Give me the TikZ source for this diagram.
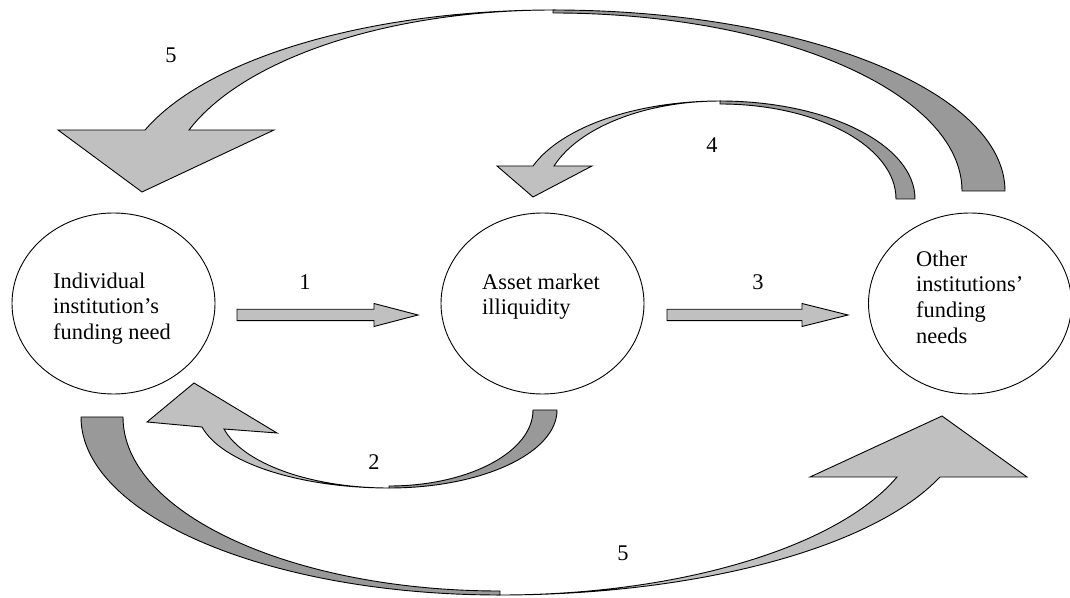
\documentclass[tikz,border=0pt]{standalone}
\usepackage{fontspec}
\setmainfont{Liberation Serif}
\usetikzlibrary{shapes.geometric}
\definecolor{lightshade}{RGB}{192,192,192}
\definecolor{darkshade}{RGB}{153,153,153}
\begin{document}
\begin{tikzpicture}[x=1pt,y=1pt,
  font=\fontsize{22.4}{25.6}\selectfont,
  stage/.style={ellipse,draw,line width=0.9pt,minimum width=203pt,minimum height=181pt,inner sep=0pt},
  caption/.style={anchor=north west,align=left,inner sep=0pt},
  num/.style={anchor=base,inner sep=0pt},
  backpart/.style={draw,fill=darkshade,line width=0.9pt},
  frontpart/.style={draw,fill=lightshade,line width=0.9pt}]
\useasboundingbox (0,0) rectangle (1070,597);

    % the three states
    \node[stage] (indiv) at (113.5,293.5) {};
    \node[stage] (asset) at (542.5,293.5) {};
    \node[stage] (other) at (970,293.5) {};
    \node[caption] (indivtxt) at (53,324.5) {Individual\\institution’s\\funding need};
    \node[caption] (assettxt) at (482,323.5) {Asset market\\illiquidity};
    \node[caption] (othertxt) at (916,346.5) {Other\\institutions’\\funding\\needs};

    % straight arrows 1 and 3
    \draw[frontpart] (237,276.3) -- (374,276.3) -- (374,270.5) -- (418,282) -- (374,293.5) -- (374,287.7) -- (237,287.7) -- cycle;
    \draw[frontpart] (667,276.3) -- (802,276.3) -- (802,270.5) -- (848,282) -- (802,293.5) -- (802,287.7) -- (667,287.7) -- cycle;

    % arrow 5, top
    \draw[backpart] (1005,406) arc[start angle=0,end angle=90,x radius=452,y radius=181]
      -- (553,584) arc[start angle=90,end angle=0,x radius=409,y radius=178] -- cycle;
    \draw[frontpart] (553,587) arc[start angle=90,end angle=160.3,x radius=433.3,y radius=181]
      -- (58,467) -- (142,405) -- (274,467) -- (189,467)
      arc[start angle=160.3,end angle=90,x radius=386.6,y radius=181] -- cycle;

    % arrow 4
    \draw[backpart] (915,398) arc[start angle=0,end angle=90,x radius=195,y radius=98]
      -- (720,493) arc[start angle=90,end angle=0,x radius=176,y radius=95] -- cycle;
    \draw[frontpart] (720,496) arc[start angle=90,end angle=160.3,x radius=198.6,y radius=98]
      -- (497,431) -- (533,400) -- (592,431) -- (554,431)
      arc[start angle=160.3,end angle=90,x radius=176.3,y radius=98] -- cycle;

    % arrow 2
    \draw[backpart] (557,187) arc[start angle=360,end angle=270,x radius=168,y radius=78]
      -- (389,111) arc[start angle=270,end angle=360,x radius=144,y radius=76] -- cycle;
    \draw[frontpart] (389,109) arc[start angle=270,end angle=192.6,x radius=191.6,y radius=78]
      -- (147,175) -- (194,214) -- (277,164) -- (224,168)
      arc[start angle=194.1,end angle=270,x radius=170.1,y radius=78] -- cycle;

    % arrow 5, bottom
    \draw[backpart] (81,180) arc[start angle=180,end angle=270,x radius=419,y radius=178]
      -- (500,6) arc[start angle=270,end angle=180,x radius=377,y radius=174] -- cycle;
    \draw[frontpart] (500,2) arc[start angle=270,end angle=340.3,x radius=467.3,y radius=178]
      -- (1027,120) -- (942,181) -- (810,120) -- (897,120)
      arc[start angle=340.3,end angle=270,x radius=421.7,y radius=178] -- cycle;

    % labels
    \node[num] (n5a) at (171,534) {5};
    \node[num] (n1) at (305,307) {1};
    \node[num] (n3) at (758,307) {3};
    \node[num] (n4) at (712,444.3) {4};
    \node[num] (n2) at (374,128) {2};
    \node[num] (n5b) at (623,37) {5};
\end{tikzpicture}
\end{document}
